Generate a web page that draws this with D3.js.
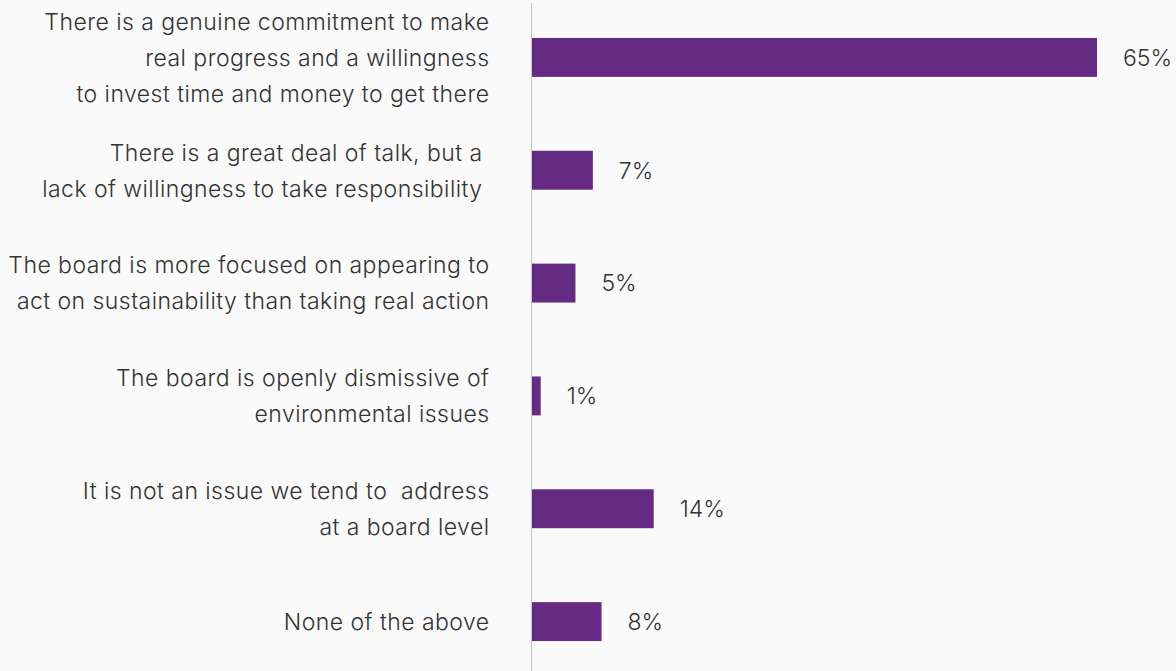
<!DOCTYPE html>
<html>
<head>
<meta charset="utf-8">
<script src="https://cdn.jsdelivr.net/npm/d3@7"></script>
<style>
  html, body { margin: 0; padding: 0; background: #fafafa; }
  svg { display: block; }
  text { font-family: Inter, "Noto Sans", sans-serif; fill: #333333; }
</style>
</head>
<body>
<svg id="chart" width="1176" height="671"></svg>
<script>
// Survey responses: how the board approaches sustainability
const categories = [
  "There is a genuine commitment to make|real progress and a willingness|to invest time and money to get there",
  "There is a great deal of talk, but a |lack of willingness to take responsibility ",
  "The board is more focused on appearing to|act on sustainability than taking real action",
  "The board is openly dismissive of|environmental issues",
  "It is not an issue we tend to  address|at a board level",
  "None of the above"
];
const values = [65, 7, 5, 1, 14, 8];

const width = 1176, height = 671;
const axisX = 531.5;
const labelRight = 489;
const fontSize = 23;

const svg = d3.select("#chart");

const x = d3.scaleLinear().domain([0, 65]).range([axisX + 0.5, 1097]);
const y = d3.scaleBand()
  .domain(categories)
  .range([1, 678])
  .paddingInner(0.655)
  .paddingOuter(0.3275);

// vertical baseline
svg.append("line")
  .attr("x1", axisX).attr("x2", axisX)
  .attr("y1", 3).attr("y2", height)
  .attr("stroke", "#c8c8c8")
  .attr("stroke-width", 1.2);

// bars
svg.append("g").selectAll("rect")
  .data(values)
  .join("rect")
  .attr("x", x(0))
  .attr("y", (d, i) => y(categories[i]))
  .attr("width", d => x(d) - x(0))
  .attr("height", y.bandwidth())
  .attr("fill", "#652a82");

// value labels
svg.append("g").selectAll("text")
  .data(values)
  .join("text")
  .attr("x", d => x(d) + 26)
  .attr("y", (d, i) => y(categories[i]) + y.bandwidth() / 2)
  .attr("dy", "0.36em")
  .attr("font-size", fontSize)
  .attr("font-weight", 300)
  .text(d => d + "%");

// category labels, wrapped on "|"
const lineH = 36;
const labels = svg.append("g").selectAll("text")
  .data(categories)
  .join("text")
  .attr("text-anchor", "end")
  .attr("font-size", fontSize)
  .attr("font-weight", 300)
  .attr("letter-spacing", 0.45)
  .attr("xml:space", "preserve")
  .style("white-space", "pre");

labels.each(function(d) {
  const lines = d.split("|");
  const t = d3.select(this);
  const yc = y(d) + y.bandwidth() / 2;
  lines.forEach((ln, j) => {
    t.append("tspan")
      .attr("x", labelRight + 0.5)
      .attr("y", yc + (j - (lines.length - 1) / 2) * lineH)
      .attr("dy", "0.36em")
      .text(ln);
  });
});
</script>
</body>
</html>
